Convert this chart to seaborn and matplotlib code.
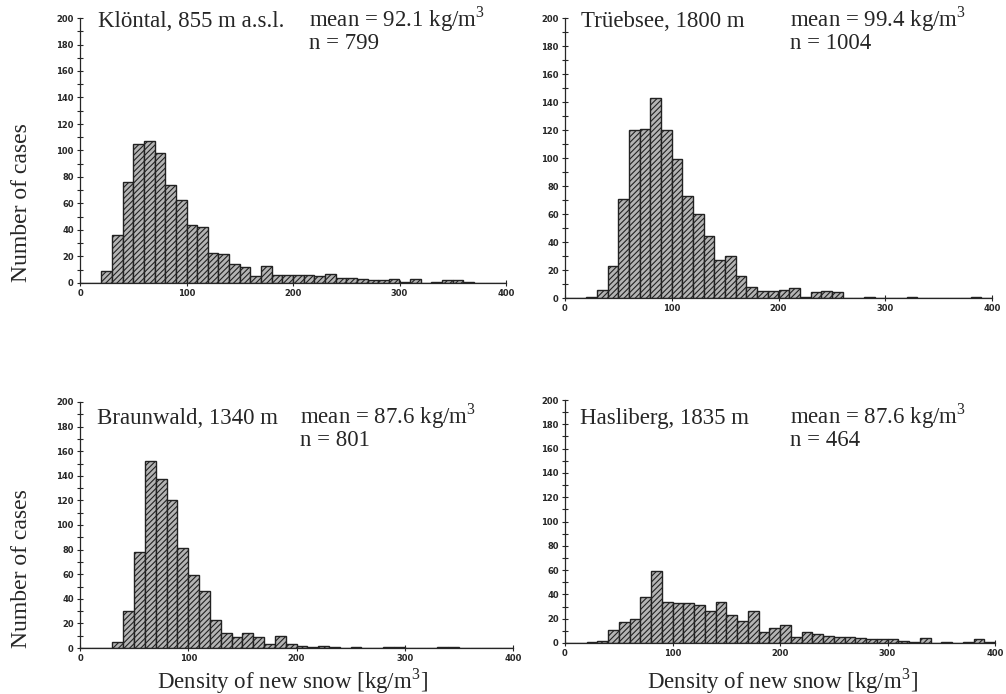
import numpy as np
import pandas as pd
import matplotlib
matplotlib.use('Agg')
import matplotlib.pyplot as plt
import seaborn as sns

# bins of 10 kg/m3 from 0 to 400, counts
edges = np.arange(0, 410, 10)

klontal = [0, 0, 9, 36, 76, 105, 107, 98, 74, 63,
           44, 42, 23, 22, 14, 12, 5, 13, 6, 6,
           6, 6, 5, 7, 4, 4, 3, 2, 2, 3,
           1, 3, 0, 1, 2, 2, 1, 0, 0, 0]
truebsee = [0, 0, 1, 6, 23, 71, 120, 121, 143, 120,
            99, 73, 60, 44, 27, 30, 16, 8, 5, 5,
            6, 7, 1, 4, 5, 4, 0, 0, 1, 0,
            0, 0, 1, 0, 0, 0, 0, 0, 1, 0]
braunwald = [0, 0, 0, 5, 30, 78, 152, 137, 120, 81,
             59, 46, 23, 12, 9, 12, 9, 3, 10, 3,
             2, 1, 2, 1, 0, 1, 0, 0, 1, 1,
             0, 0, 0, 1, 1, 0, 0, 0, 0, 0]
hasliberg = [0, 0, 1, 2, 11, 17, 20, 38, 59, 34,
             33, 33, 31, 26, 34, 23, 18, 26, 9, 12,
             15, 5, 9, 7, 6, 5, 5, 4, 3, 3,
             3, 2, 1, 4, 0, 1, 0, 1, 3, 1]

names = ['Klöntal, 855 m a.s.l.', 'Trüebsee, 1800 m',
         'Braunwald, 1340 m', 'Hasliberg, 1835 m']
means = ['mean = 92.1 kg/m$^3$', 'mean = 99.4 kg/m$^3$',
         'mean = 87.6 kg/m$^3$', 'mean = 87.6 kg/m$^3$']
ns = ['n = 799', 'n = 1004', 'n = 801', 'n = 464']
counts = [klontal, truebsee, braunwald, hasliberg]

sns.set_style('ticks')
plt.rcParams['font.family'] = ['Liberation Serif', 'DejaVu Serif']
plt.rcParams['mathtext.fontset'] = 'custom'
plt.rcParams['mathtext.rm'] = 'Liberation Serif'
plt.rcParams['hatch.linewidth'] = 0.8
plt.rcParams['hatch.color'] = '#2e2e2e'

fig = plt.figure(figsize=(10.06, 6.94), dpi=100)
W, H = 1006.0, 694.0

# axes boxes in pixels: x at 0, x at 400, y at 200, y at 0
boxes = [(80, 506, 18, 283), (565, 992, 18, 298),
         (80, 513, 402, 648), (565, 995, 400, 643)]

# text positions in pixels: name x, mean x, n x, first baseline y
texts = [(98, 309, 309, 27), (581, 790, 790, 27),
         (97, 300, 300, 424), (580, 790, 790, 424)]

fs = 16.5

for i in range(4):
    x0, x1, yt, yb = boxes[i]
    ax = fig.add_axes([x0 / W, 1 - yb / H, (x1 - x0) / W, (yb - yt) / H])
    df = pd.DataFrame({'density': edges[:-1] + 5.0,
                       'count': np.array(counts[i], dtype=float)})
    sns.histplot(data=df, x='density', weights='count', binwidth=10,
                 binrange=(0, 400), ax=ax,
                 color='#b4b4b4', edgecolor='#222222', linewidth=1.0, alpha=1)
    for p in ax.patches:
        p.set_hatch('//////')
    ax.set_xlim(0, 400)
    ax.set_ylim(0, 200)
    ax.set_xticks([0, 100, 200, 300, 400])
    ax.set_yticks(np.arange(0, 201, 20))
    ax.set_yticks(np.arange(10, 200, 20), minor=True)
    ax.tick_params(axis='both', which='both', direction='inout', length=5,
                   width=0.8, labelsize=6, pad=2)
    ax.tick_params(axis='y', which='minor', length=4)
    for lab in ax.get_xticklabels() + ax.get_yticklabels():
        lab.set_family('DejaVu Sans')
        lab.set_weight('bold')
    sns.despine(ax=ax)
    ax.spines['left'].set_linewidth(0.9)
    ax.spines['bottom'].set_linewidth(0.9)
    ax.set_xlabel('')
    ax.set_ylabel('')

    nx, mx, nnx, ty = texts[i]
    fig.text(nx / W, 1 - ty / H, names[i], fontsize=fs, va='baseline', ha='left')
    fig.text(mx / W, 1 - ty / H, means[i], fontsize=fs, va='baseline', ha='left')
    fig.text(nnx / W, 1 - (ty + 22) / H, ns[i], fontsize=fs, va='baseline', ha='left')

fig.text(22 / W, 1 - 203 / H, 'Number of cases', rotation=90, fontsize=17,
         ha='center', va='center')
fig.text(22 / W, 1 - 569 / H, 'Number of cases', rotation=90, fontsize=17,
         ha='center', va='center')
fig.text(292 / W, 1 - 681 / H, 'Density of new snow [kg/m$^3$]', fontsize=16.5,
         ha='center', va='center')
fig.text(782 / W, 1 - 681 / H, 'Density of new snow [kg/m$^3$]', fontsize=16.5,
         ha='center', va='center')

fig.savefig('out.png', dpi=100)
